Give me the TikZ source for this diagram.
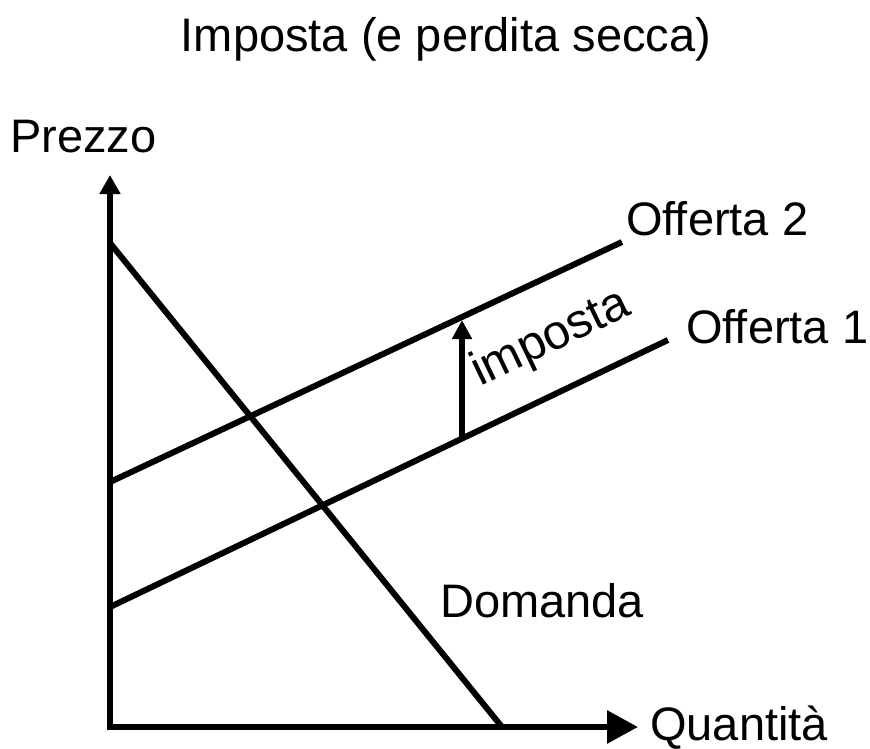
\documentclass[tikz,border=0pt]{standalone}
\usepackage{fontspec}
\setmainfont{Liberation Sans}
\usetikzlibrary{arrows.meta}
\begin{document}
\begin{tikzpicture}[x=1pt,y=-1pt,
        curve/.style={draw=black,line width=6pt},
        axis/.style={draw=black,line width=6pt,arrows={Triangle[length=19pt,width=20pt]-Triangle[length=31pt,width=32pt]}},
        taxarrow/.style={draw=black,line width=5.5pt,-{Triangle[length=19pt,width=19pt]}},
        lbl/.style={inner sep=0pt,anchor=base west,font=\fontsize{47}{56}\selectfont}
      ]
      \useasboundingbox (0,0) rectangle (870,749);
      % axes
      \coordinate (ytop) at (110,175);
      \coordinate (origin) at (110,727);
      \coordinate (xend) at (638,727);
      \draw[axis] (ytop) -- (origin) -- (xend);
      % curves
      \coordinate (dstart) at (110,243);
      \coordinate (dend) at (502,727);
      \coordinate (s1start) at (110,607);
      \coordinate (s1end) at (668,340);
      \coordinate (s2start) at (110,482);
      \coordinate (s2end) at (622,242);
      \draw[curve] (dstart) -- (dend);
      \draw[curve] (s1start) -- (s1end);
      \draw[curve] (s2start) -- (s2end);
      % tax shift
      \coordinate (taxlow) at (462,438);
      \coordinate (taxhigh) at (462,320);
      \draw[taxarrow] (taxlow) -- (taxhigh);
      % labels
      \node[lbl,anchor=base] (title) at (446,52) {Imposta (e perdita secca)};
      \node[lbl] (prezzo) at (10,153) {Prezzo};
      \node[lbl] (quantita) at (650,740) {Quantità};
      \node[lbl] (offerta2) at (626,235) {Offerta 2};
      \node[lbl] (offerta1) at (686,343) {Offerta 1};
      \node[lbl] (domanda) at (440,617) {Domanda};
      \node[lbl,rotate=25.6,font=\fontsize{48.5}{58}\selectfont] (imposta) at (480,387) {imposta};
    \end{tikzpicture}
\end{document}
